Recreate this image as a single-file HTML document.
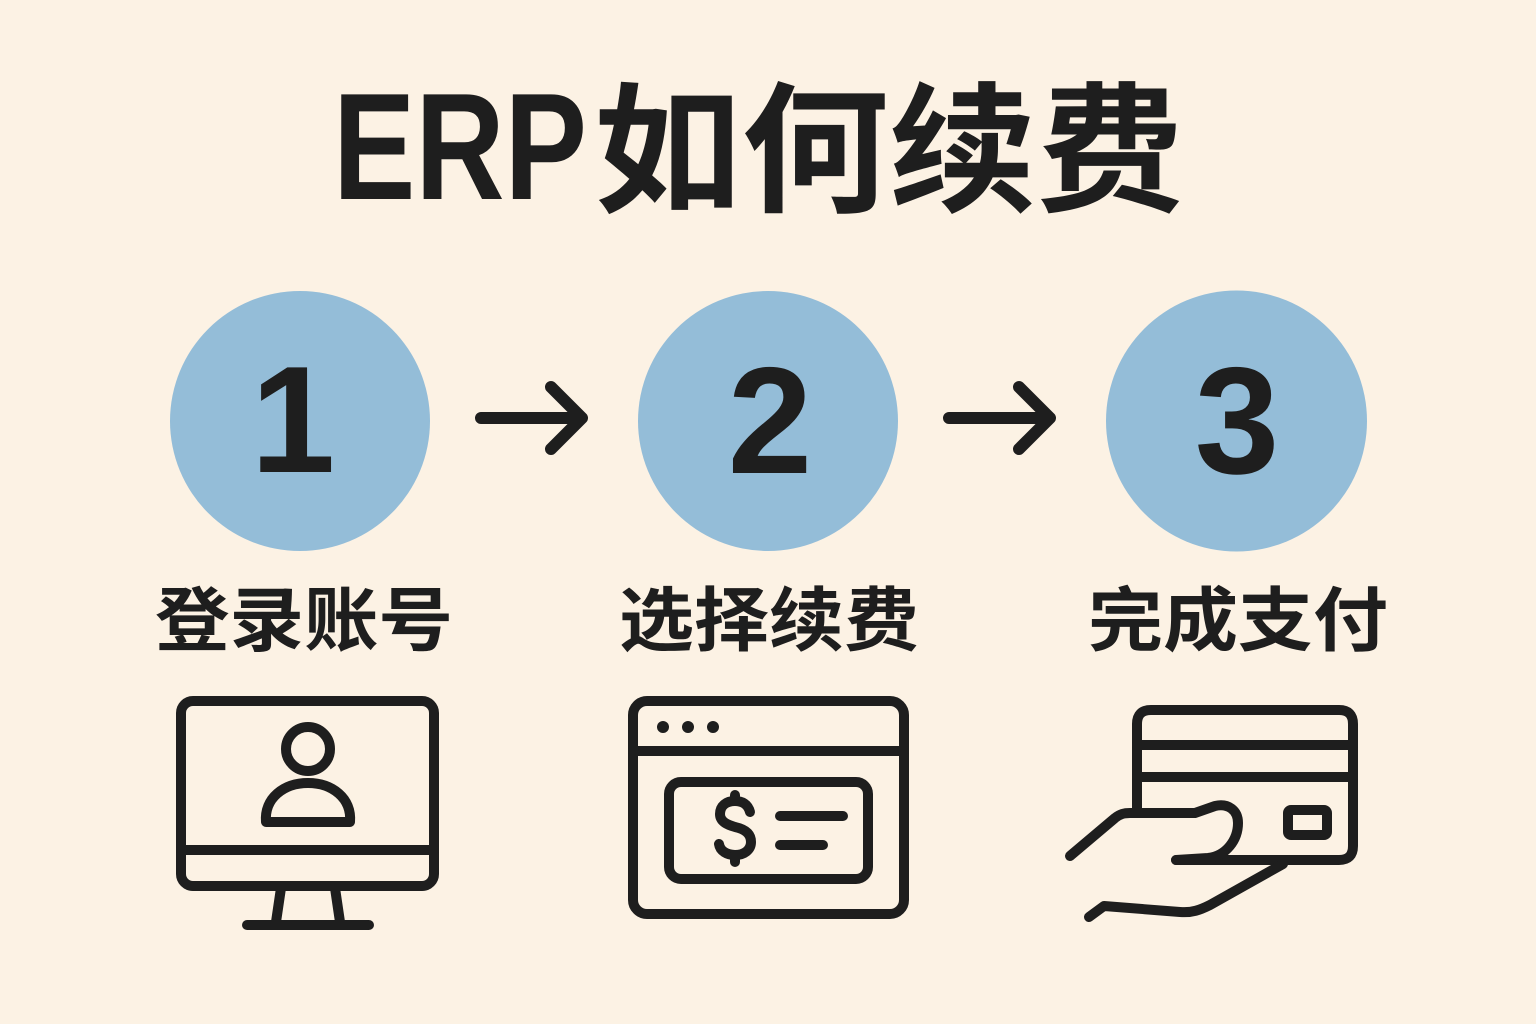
<!DOCTYPE html>
<html><head><meta charset="utf-8"><style>
html,body{margin:0;padding:0;background:#FCF2E4;}
svg{display:block;}
</style></head><body>
<svg width="1536" height="1024" viewBox="0 0 1536 1024" xmlns="http://www.w3.org/2000/svg">
<rect width="1536" height="1024" fill="#FCF2E4"/>
<g fill="#1E1E1E" font-weight="700">
<text x="333" y="199" font-family="'Liberation Sans', sans-serif" font-size="152" textLength="254" lengthAdjust="spacingAndGlyphs">ERP</text>
<text x="594" y="201" font-family="'Liberation Sans','Noto Sans CJK SC',sans-serif" font-size="141" textLength="590" lengthAdjust="spacingAndGlyphs">如何续费</text>
</g>
<g fill="#94BDD8">
<circle cx="300" cy="421" r="130"/>
<circle cx="768" cy="421" r="130"/>
<circle cx="1236.5" cy="421" r="130.5"/>
</g>
<g fill="#1E1E1E" font-family="'Liberation Sans', sans-serif" font-weight="700" font-size="152" text-anchor="middle">
<text x="293" y="472">1</text>
<text x="770" y="473">2</text>
<text x="1237" y="473">3</text>
</g>
<g stroke="#1E1E1E" stroke-width="12" stroke-linecap="round" stroke-linejoin="round" fill="none">
<path d="M481 418 L582 418 M551 387 L582 418 L551 449"/>
<path d="M949 418 L1050 418 M1019 387 L1050 418 L1019 449"/>
</g>
<g fill="#1E1E1E" font-family="'Liberation Sans','Noto Sans CJK SC',sans-serif" font-weight="700" font-size="70">
<text x="155" y="645" textLength="298" lengthAdjust="spacingAndGlyphs">登录账号</text>
<text x="619" y="645" textLength="300" lengthAdjust="spacingAndGlyphs">选择续费</text>
<text x="1088" y="645" textLength="300" lengthAdjust="spacingAndGlyphs">完成支付</text>
</g>
<!-- monitor icon -->
<g stroke="#1E1E1E" stroke-width="10" stroke-linecap="round" stroke-linejoin="round" fill="none">
<rect x="181" y="701" width="253" height="185" rx="12"/>
<line x1="181" y1="850" x2="434" y2="850"/>
<line x1="281" y1="888" x2="276" y2="922"/>
<line x1="335" y1="888" x2="340" y2="922"/>
<line x1="247" y1="925" x2="369" y2="925"/>
<circle cx="308" cy="749" r="22"/>
<path d="M266 822 C264 798 284 783 308 783 C332 783 352 798 350 822 Z"/>
</g>
<!-- browser icon -->
<g stroke="#1E1E1E" stroke-width="10" stroke-linecap="round" stroke-linejoin="round" fill="none">
<rect x="633" y="701" width="271" height="213" rx="14"/>
<line x1="633" y1="751" x2="904" y2="751"/>
<rect x="669" y="782" width="199" height="97" rx="12"/>
<path d="M750 812 C748 804 742 801 735 801 C726 801 720 806 720 814 C720 822 728 825 735 827 C744 829 751 833 751 842 C751 850 744 855 735 855 C727 855 720 851 719 844"/>
<line x1="735" y1="795" x2="735" y2="801"/>
<line x1="735" y1="855" x2="735" y2="862"/>
<line x1="780" y1="816" x2="843" y2="816"/>
<line x1="780" y1="845" x2="823" y2="845"/>
</g>
<g fill="#1E1E1E">
<circle cx="663" cy="727" r="6"/>
<circle cx="688" cy="727" r="6"/>
<circle cx="713" cy="727" r="6"/>
</g>
<!-- card + hand icon -->
<g stroke="#1E1E1E" stroke-width="10" stroke-linecap="round" stroke-linejoin="round" fill="none">
<path d="M1137 812 L1137 724 Q1137 710 1151 710 L1339 710 Q1353 710 1353 724 L1353 846 Q1353 860 1339 860 L1176 860"/>
<line x1="1137" y1="745" x2="1353" y2="745"/>
<line x1="1137" y1="777" x2="1353" y2="777"/>
<rect x="1288" y="810" width="39" height="25" rx="3"/>
<path d="M1070 856 L1115 818 C1120 814 1124 813 1130 813 L1195 813 L1215 806 C1228 803 1238 810 1238 823 C1238 840 1226 856 1208 858 L1176 860"/>
<path d="M1089 917 L1104 906 L1180 912 C1192 913 1200 910 1210 905 L1283 864"/>
</g>
</svg>
</body></html>
